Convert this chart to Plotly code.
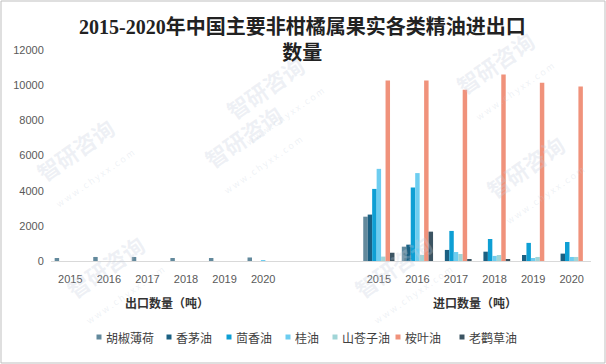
import plotly.graph_objects as go

years = ["2015", "2016", "2017", "2018", "2019", "2020"]
groups = ["出口数量（吨）", "进口数量（吨）"]
series_names = ["胡椒薄荷", "香茅油", "茴香油", "桂油", "山苍子油", "桉叶油", "老鹳草油"]
colors = ["#62899c", "#1b6082", "#0e9fd4", "#6dcdf0", "#a0d5d7", "#f0927b", "#3c5462"]

# export values (tons), by series, years 2015-2020
export_vals = {
    "胡椒薄荷": [170, 230, 230, 170, 170, 200],
    "香茅油": [0, 0, 0, 0, 0, 0],
    "茴香油": [0, 0, 0, 0, 0, 0],
    "桂油": [0, 0, 0, 0, 0, 40],
    "山苍子油": [0, 0, 0, 0, 0, 0],
    "桉叶油": [0, 0, 0, 0, 0, 0],
    "老鹳草油": [0, 0, 0, 0, 0, 0],
}
# import values (tons)
import_vals = {
    "胡椒薄荷": [2520, 815, 0, 0, 0, 0],
    "香茅油": [2640, 930, 630, 530, 340, 420],
    "茴香油": [4100, 4180, 1710, 1250, 1030, 1080],
    "桂油": [5240, 5000, 510, 290, 170, 230],
    "山苍子油": [250, 340, 400, 340, 230, 230],
    "桉叶油": [10270, 10270, 9740, 10600, 10140, 9920],
    "老鹳草油": [470, 1670, 110, 60, 0, 0],
}

export_x = list(range(6))
import_x = [i + 8 for i in range(6)]
xs = export_x + import_x

L, R, T, B = 51, 15, 50, 103
W, H = 606, 364
PW, PH = W - L - R, H - T - B


def px_x(p):
    return (p - L) / PW


def px_y(p):
    return (H - B - p) / PH


fig = go.Figure()
for name, col in zip(series_names, colors):
    fig.add_trace(go.Bar(
        x=xs, y=export_vals[name] + import_vals[name], name=name,
        marker=dict(color=col, line=dict(width=0)),
    ))

fig.update_layout(
    width=W, height=H,
    margin=dict(l=L, r=R, t=T, b=B, autoexpand=False),
    paper_bgcolor="white", plot_bgcolor="white",
    barmode="group", bargap=0.19, bargroupgap=0,
    font=dict(family="Noto Sans CJK SC, sans-serif", color="#595959"),
    showlegend=False,
)

fig.update_xaxes(
    tickmode="array", tickvals=xs, ticktext=years + years,
    range=[-0.5, 13.5], showgrid=False, zeroline=False,
    showline=True, linecolor="#d9d9d9", linewidth=1,
    ticks="outside", ticklen=8, tickcolor="rgba(0,0,0,0)",
    tickfont=dict(size=11, color="#595959", family="Liberation Sans, Noto Sans CJK SC"),
)
fig.update_yaxes(
    range=[0, 12000], tickvals=[0, 2000, 4000, 6000, 8000, 10000, 12000],
    tickformat="d",
    showgrid=False, zeroline=False, showline=False,
    ticks="outside", ticklen=4, tickcolor="rgba(0,0,0,0)",
    tickfont=dict(size=11, color="#595959", family="Liberation Sans, Noto Sans CJK SC"),
)

# title
fig.add_annotation(
    x=px_x(302), xref="paper", y=px_y(40), yref="paper", yanchor="middle",
    text="<b>2015-2020年中国主要非柑橘属果实各类精油进出口<br>数量</b>",
    showarrow=False,
    font=dict(family="Liberation Serif, Noto Sans CJK SC", size=20, color="#222222"),
)

# group labels
for gx, label in zip([2.5, 10.5], groups):
    fig.add_annotation(
        x=gx, xref="x", y=px_y(302), yref="paper", yanchor="middle",
        text="<b>" + label + "</b>", showarrow=False,
        font=dict(size=12, color="#333333", family="Noto Sans CJK SC"),
    )

# legend (manual, one row)
legend_sq_x = [99, 169, 229, 288, 335, 398, 462]
for name, col, sx in zip(series_names, colors, legend_sq_x):
    fig.add_shape(type="rect", xref="paper", yref="paper",
                  x0=px_x(sx - 2.5), x1=px_x(sx + 2.5),
                  y0=px_y(339.5), y1=px_y(334.5),
                  fillcolor=col, line=dict(width=0))
    fig.add_annotation(
        x=px_x(sx + 5), xref="paper", xanchor="left",
        y=px_y(337), yref="paper", yanchor="middle",
        text=name, showarrow=False,
        font=dict(size=12, color="#404040", family="Noto Sans CJK SC"),
    )

# watermarks
marks = [(215, 45), (560, 20), (250, 200), (25, 160), (55, 330), (400, 330), (590, 230)]
for mx, my in marks:
    fig.add_annotation(
        x=px_x(mx), y=px_y(my), xref="paper", yref="paper", showarrow=False, textangle=-35,
        text="<b>智研咨询</b><br><span style='font-size:9px'>w w w . c h y x x . c o m</span>",
        font=dict(size=22, color="rgba(195,205,220,0.28)", family="Noto Sans CJK SC"),
    )

# outer frame
fig.add_shape(type="rect", xref="paper", yref="paper",
              x0=px_x(1), x1=px_x(605), y0=px_y(363), y1=px_y(1),
              line=dict(color="#bfbfbf", width=1))

fig.write_html("out.html", config={"displayModeBar": False},
               post_script="document.body.style.margin='0';document.body.style.overflow='hidden';")
